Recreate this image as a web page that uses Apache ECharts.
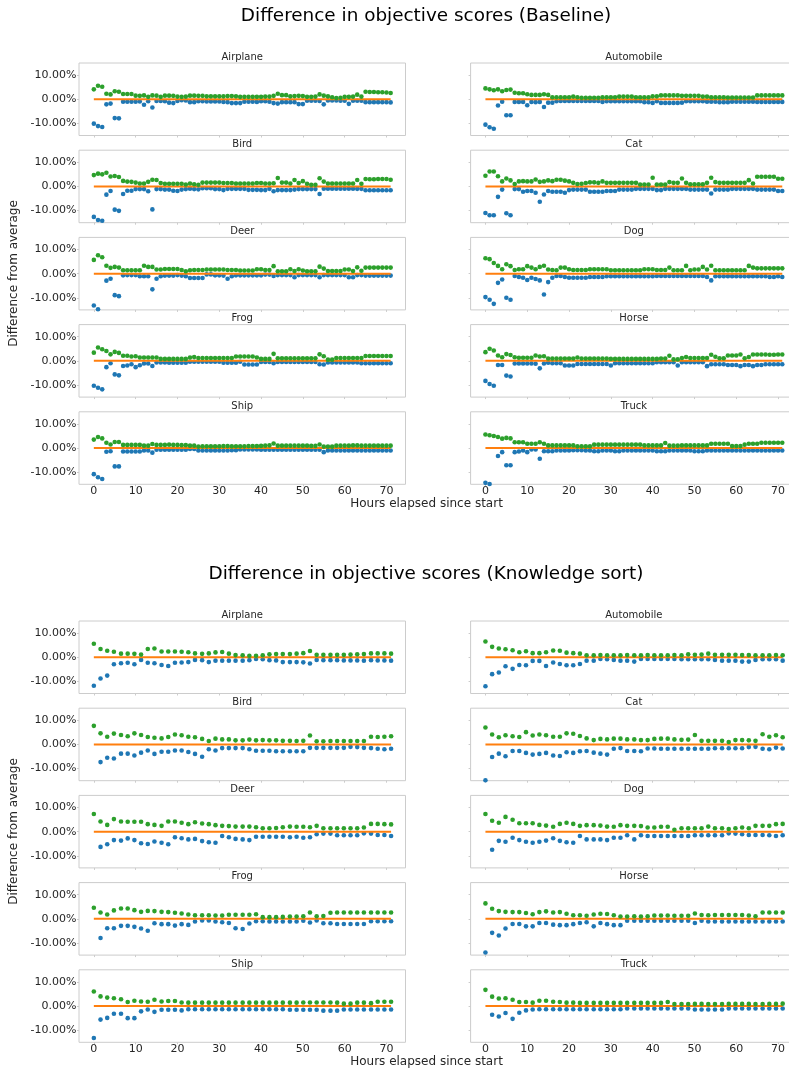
<!DOCTYPE html>
<html>
<head>
<meta charset="utf-8">
<script src="https://cdn.jsdelivr.net/npm/echarts@6.0.0/dist/echarts.min.js"></script>
<style>
html,body{margin:0;padding:0;background:#ffffff;}
#chart{width:789px;height:1071px;}
</style>
</head>
<body>
<div id="chart"></div>
<script>
// ---------------- DATA ----------------
const panelNames = ['Airplane','Automobile','Bird','Cat','Deer','Dog','Frog','Horse','Ship','Truck'];
const sectionTitles = ['Difference in objective scores (Baseline)','Difference in objective scores (Knowledge sort)'];
const xTicks = [0,10,20,30,40,50,60,70];
const yTicks = [-10,0,10];

const baseHours = [0,1,2,3,4,5,6,7,8,9,10,11,12,13,14,15,16,17,18,19,20,21,22,23,24,25,26,27,28,29,30,31,32,33,34,35,
  36,37,38,39,40,41,42,43,44,45,46,47,48,49,50,51,52,53,54,55,56,57,58,59,60,61,62,63,64,65,66,67,68,69,70,71];
const ksHours = [0,1.6,3.2,4.8,6.5,8.1,9.7,11.3,12.9,14.5,16.2,17.8,19.4,21.0,22.6,24.2,25.9,27.5,29.1,30.7,
  32.3,33.9,35.6,37.2,38.8,40.4,42.0,43.6,45.2,46.9,48.5,50.1,51.7,53.3,54.9,56.6,58.2,59.8,61.4,63.0,
  64.6,66.3,67.9,69.5,71.1];

// Baseline (values in %)
const baseAirplaneMax = [4.1,5.6,5.2,2.3,2.0,3.3,3.1,2.2,2.2,2.2, 1.5,1.4,1.6,1.0,1.6,1.5,1.0,1.5,1.5,1.4,
  1.1,1.0,1.1,1.5,1.5,1.4,1.4,1.2,1.2,1.2, 1.2,1.2,1.3,1.3,1.2,1.0,1.0,1.0,1.0,1.0,
  1.0,1.1,1.1,1.4,2.3,1.7,1.7,1.2,1.3,1.4, 1.3,1.0,1.0,1.1,2.0,1.5,1.2,0.8,0.5,0.6,
  1.0,1.0,1.1,1.9,1.1,3.1,3.0,3.0,2.9,2.9, 2.8,2.6];
const baseAirplaneMin = [-10.1,-11.1,-11.5,-2.1,-1.8,-7.8,-7.9,-1.0,-1.0,-1.0, -1.0,-0.9,-2.3,-0.8,-3.4,-0.7,-0.7,-0.8,-1.4,-1.6,
  -0.7,-0.4,-0.5,-1.2,-1.2,-0.8,-0.8,-0.9,-0.9,-0.9, -0.9,-1.1,-1.2,-1.6,-1.6,-1.6,-1.0,-1.0,-1.0,-1.1,
  -0.8,-0.8,-1.0,-1.6,-1.8,-1.2,-1.2,-1.2,-1.2,-2.0, -2.0,-0.6,-0.6,-0.6,-0.7,-2.1,-0.5,-0.5,-0.5,-0.6,
  -0.6,-1.9,-0.6,-0.6,-0.6,-1.2,-1.2,-1.2,-1.2,-1.2, -1.2,-1.3];
const baseAutomobileMax = [4.5,4.1,3.7,4.1,3.3,3.8,4.0,2.7,2.5,2.5, 2.1,1.8,1.8,1.8,2.1,1.8,0.8,0.8,0.8,0.8,
  0.8,1.1,0.8,0.6,0.6,0.6,0.6,0.6,0.8,0.8, 0.8,0.8,1.1,1.1,1.1,1.1,0.8,0.8,0.8,0.8,
  1.2,1.2,1.6,1.6,1.6,1.6,1.6,1.4,1.4,1.4, 1.4,1.4,1.1,1.1,0.8,0.8,0.8,0.8,0.7,0.7,
  0.7,0.7,0.7,0.7,0.7,1.6,1.6,1.6,1.6,1.6, 1.6,1.6];
const baseAutomobileMin = [-10.5,-11.6,-12.2,-2.6,-1.0,-6.6,-6.6,-1.1,-1.1,-1.1, -2.5,-1.1,-1.2,-1.1,-3.2,-1.4,-1.4,-0.8,-0.7,-0.7,
  -0.7,-0.7,-0.7,-0.7,-0.7,-0.7,-0.7,-0.7,-1.1,-0.8, -0.8,-0.8,-0.8,-0.8,-0.8,-0.8,-0.8,-0.8,-1.2,-1.2,
  -1.5,-0.8,-1.5,-1.5,-1.5,-1.5,-1.5,-1.4,-0.8,-0.8, -0.8,-0.8,-0.8,-1.0,-1.0,-1.0,-1.2,-1.2,-1.2,-1.0,
  -1.0,-1.0,-1.0,-1.0,-1.0,-1.1,-1.1,-1.1,-1.1,-1.1, -1.1,-1.1];
const baseBirdMax = [4.7,5.3,5.0,5.7,4.1,4.3,3.9,2.3,2.0,1.9, 1.6,1.2,1.2,1.9,2.8,2.7,1.4,1.1,1.1,1.1,
  1.1,1.1,0.8,1.2,0.9,0.7,1.6,1.6,1.6,1.6, 1.6,1.4,1.4,1.4,1.2,1.2,1.2,1.2,1.2,1.4,
  1.4,1.2,1.2,1.3,3.5,1.6,1.6,1.2,2.7,1.4, 2.2,1.1,0.7,0.7,3.4,2.0,1.2,1.2,1.2,1.2,
  1.2,1.2,1.2,2.7,1.1,3.1,3.0,3.0,3.1,3.1, 3.1,2.8];
const baseBirdMin = [-12.6,-13.9,-14.2,-3.4,-1.9,-9.6,-10.1,-3.1,-1.8,-1.8, -1.1,-1.1,-1.1,-2.0,-9.5,-1.1,-1.1,-1.3,-1.3,-1.8,
  -1.9,-1.3,-1.1,-0.9,-1.1,-1.2,-0.7,-0.7,-0.7,-1.1, -1.1,-1.5,-1.0,-1.0,-1.0,-1.0,-1.0,-1.4,-1.4,-1.4,
  -1.5,-1.5,-1.0,-2.0,-1.5,-1.5,-1.5,-1.5,-1.3,-1.1, -1.1,-1.1,-1.1,-1.1,-3.1,-0.9,-0.9,-0.9,-0.9,-0.9,
  -0.9,-0.9,-0.9,-1.0,-1.0,-1.6,-1.6,-1.6,-1.6,-1.6, -1.6,-1.6];
const baseCatMax = [4.4,6.2,6.2,4.2,2.1,3.3,2.5,1.0,2.1,2.2, 2.1,2.1,2.9,1.9,2.1,2.5,2.2,2.8,2.8,2.4,
  2.1,1.5,1.0,1.1,1.4,1.7,1.7,1.5,2.1,1.5, 1.5,1.5,1.5,1.5,1.5,1.5,1.5,0.8,0.8,0.8,
  3.6,0.8,0.8,0.8,1.8,1.5,1.5,3.3,1.5,0.9, 0.9,0.9,0.9,1.5,3.6,1.8,1.5,1.5,1.5,1.5,
  1.5,1.5,1.5,2.6,1.2,4.0,4.0,4.0,4.0,4.0, 3.2,3.2];
const baseCatMin = [-11.0,-11.9,-11.9,-4.3,-1.3,-11.1,-11.9,-1.1,-1.1,-2.2, -1.9,-1.9,-2.6,-6.3,-3.3,-1.9,-2.2,-2.2,-2.2,-2.6,
  -1.5,-1.3,-1.3,-1.3,-1.3,-2.2,-2.2,-2.2,-2.2,-1.9, -1.9,-1.9,-1.3,-1.3,-1.3,-1.3,-1.0,-1.0,-1.0,-1.0,
  -1.0,-1.5,-1.5,-1.0,-1.0,-1.0,-1.0,-1.0,-1.0,-1.3, -1.3,-1.3,-1.3,-1.3,-2.9,-1.3,-1.3,-1.3,-1.3,-1.0,
  -1.0,-1.0,-1.0,-1.0,-1.0,-1.3,-1.3,-1.3,-1.3,-1.3, -1.9,-1.9];
const baseDeerMax = [5.7,7.6,6.8,3.3,2.4,2.8,2.5,1.4,1.4,1.4, 1.4,1.4,3.3,2.8,2.8,1.7,1.7,1.9,1.9,1.9,
  1.9,1.5,1.0,1.4,1.5,1.5,1.5,1.7,1.7,1.7, 1.7,1.7,1.5,1.5,1.5,1.3,1.3,1.3,1.3,1.8,
  1.8,1.5,1.5,3.1,1.0,1.0,1.0,1.8,1.1,1.8, 1.3,1.0,1.0,1.0,2.9,2.1,1.1,1.1,1.1,1.1,
  1.7,1.7,1.1,2.6,1.2,2.5,2.5,2.5,2.5,2.5, 2.5,2.5];
const baseDeerMin = [-13.2,-14.7,-15.6,-2.9,-2.1,-8.9,-9.3,-0.7,-0.6,-0.6, -0.6,-1.1,-1.1,-1.1,-6.5,-2.1,-1.1,-0.8,-0.8,-0.8,
  -0.6,-0.8,-1.1,-1.8,-1.8,-1.8,-1.8,-0.3,-0.3,-0.7, -0.7,-0.8,-2.1,-1.1,-0.7,-0.7,-0.7,-0.7,-0.7,-0.7,
  -0.7,-0.4,-0.4,-1.0,-0.6,-0.6,-0.6,-0.6,-1.5,-0.6, -0.6,-0.6,-0.6,-0.6,-1.5,-0.6,-0.6,-0.6,-0.6,-0.6,
  -0.6,-1.5,-1.5,-0.6,-0.6,-0.8,-0.8,-0.8,-0.8,-0.8, -0.8,-0.8];
const baseDogMax = [6.4,6.0,4.4,3.2,1.8,3.9,3.1,1.5,1.8,1.8, 3.1,2.5,1.8,2.8,3.3,1.7,1.5,1.4,2.5,2.5,
  1.8,1.5,1.5,1.5,1.5,1.8,1.8,1.8,1.8,1.8, 1.4,1.4,1.4,1.4,1.4,1.4,1.4,1.4,1.8,1.8,
  1.8,1.5,1.5,1.5,2.5,1.4,1.4,1.4,3.2,1.4, 1.7,1.7,2.8,1.7,3.3,1.4,1.4,1.4,1.4,1.4,
  1.4,1.4,1.4,3.2,2.5,2.2,2.2,2.2,2.2,2.2, 2.2,2.2];
const baseDogMin = [-9.7,-10.8,-12.5,-3.8,-2.4,-10.0,-10.8,-1.0,-1.4,-1.7, -2.6,-1.7,-2.2,-2.8,-8.6,-3.5,-1.7,-1.0,-1.0,-1.4,
  -1.7,-1.7,-1.7,-1.7,-1.7,-1.4,-1.4,-1.4,-1.4,-1.1, -1.1,-1.1,-1.1,-1.1,-1.1,-1.1,-1.1,-1.1,-1.1,-1.1,
  -1.1,-1.0,-1.0,-1.0,-1.0,-1.0,-1.0,-1.0,-1.0,-1.0, -1.0,-1.0,-1.0,-1.4,-2.8,-1.1,-1.1,-1.1,-1.1,-1.1,
  -1.1,-1.1,-1.1,-1.1,-1.1,-1.1,-1.1,-1.1,-1.4,-1.4, -1.1,-1.4];
const baseFrogMax = [3.4,5.5,4.8,4.1,2.7,3.7,3.3,2.1,2.1,1.8, 1.9,1.4,1.4,1.4,1.4,1.4,0.8,0.8,0.8,0.8,
  0.8,0.8,0.8,1.4,1.6,1.2,1.2,1.2,1.2,1.2, 1.2,1.2,1.2,1.2,1.8,1.8,1.8,1.8,1.8,1.4,
  0.8,0.8,0.8,2.9,1.1,1.1,1.1,1.1,1.1,1.1, 1.1,1.1,1.1,1.1,2.7,1.9,0.5,0.5,1.2,1.2,
  1.2,1.2,1.2,1.2,1.2,2.0,2.0,2.0,2.0,2.0, 2.0,2.0];
const baseFrogMin = [-10.3,-11.1,-11.8,-2.6,-1.0,-5.6,-6.0,-2.1,-1.9,-1.4, -2.6,-1.8,-1.1,-1.1,-2.1,-0.7,-0.7,-0.7,-0.8,-0.8,
  -0.8,-0.8,-0.8,-0.4,-0.4,-0.4,-0.4,-0.4,-0.4,-0.4, -0.4,-0.8,-0.8,-0.8,-0.8,-0.4,-1.5,-1.5,-1.5,-1.5,
  -0.5,-0.5,-0.5,-1.0,-0.5,-0.5,-0.5,-0.5,-0.5,-0.5, -0.5,-0.5,-0.5,-0.5,-1.4,-1.5,-0.7,-0.7,-0.7,-0.7,
  -0.7,-0.7,-0.7,-0.7,-1.0,-1.0,-1.0,-1.0,-1.0,-1.0, -1.0,-1.0];
const baseHorseMax = [3.6,5.0,4.3,2.2,1.5,2.8,2.4,1.5,1.3,1.3, 1.3,1.3,2.2,1.8,1.9,1.0,1.0,1.0,1.0,1.0,
  1.0,1.0,1.4,1.0,1.0,1.0,1.0,1.0,1.0,1.0, 0.8,0.8,0.8,0.8,0.8,0.8,0.8,0.8,0.8,0.8,
  0.8,0.8,1.0,1.0,2.1,0.6,0.6,1.2,1.6,1.2, 1.2,1.2,1.2,1.2,2.5,1.7,1.1,1.1,2.2,2.2,
  2.2,2.6,1.1,1.6,2.6,2.6,2.6,2.6,2.5,2.5, 2.6,2.6];
const baseHorseMin = [-8.3,-9.6,-10.3,-1.7,-1.7,-6.1,-6.5,-1.1,-1.1,-1.1, -1.1,-1.1,-1.2,-3.1,-1.1,-0.8,-1.0,-1.0,-1.0,-1.9,
  -1.9,-1.9,-1.3,-1.3,-1.3,-1.3,-1.3,-1.3,-1.3,-1.3, -1.9,-1.0,-1.0,-1.0,-1.0,-1.0,-1.0,-1.0,-1.0,-1.0,
  -1.0,-0.6,-0.6,-0.6,-0.6,-0.6,-1.9,-0.6,-0.6,-0.6, -0.6,-0.6,-0.6,-2.2,-1.4,-1.4,-1.4,-1.4,-1.7,-1.7,
  -1.7,-2.2,-1.7,-1.7,-2.2,-1.7,-1.7,-1.4,-1.4,-1.4, -1.4,-1.4];
const baseShipMax = [3.5,4.6,4.0,2.2,1.5,2.5,2.5,1.3,1.3,1.3, 1.3,1.3,1.0,1.0,1.7,1.3,1.3,1.3,1.4,1.3,
  1.3,1.2,1.2,1.0,1.0,0.6,0.7,0.7,0.7,0.7, 0.7,0.8,0.8,0.7,0.7,0.7,0.7,0.8,0.8,0.8,
  0.9,1.0,1.1,1.9,1.0,1.0,1.0,1.0,1.0,1.0, 1.0,1.0,0.9,0.9,1.5,0.6,0.6,0.6,1.0,1.0,
  1.0,1.0,1.1,1.1,1.0,1.0,1.0,1.0,1.0,1.0, 1.0,1.0];
const baseShipMin = [-10.8,-12.1,-12.8,-1.5,-1.3,-7.6,-7.6,-1.4,-1.4,-1.4, -1.4,-1.4,-1.0,-1.0,-1.9,-0.7,-0.7,-0.7,-0.7,-0.7,
  -0.7,-0.7,-0.7,-0.4,-0.4,-1.0,-1.0,-1.0,-1.0,-1.0, -1.0,-1.0,-1.0,-0.9,-0.9,-0.6,-0.6,-0.6,-0.6,-0.6,
  -0.7,-0.7,-0.7,-0.7,-0.7,-0.7,-0.7,-0.7,-0.7,-0.7, -0.7,-0.7,-0.7,-0.7,-0.7,-1.7,-1.0,-1.0,-1.0,-1.0,
  -1.0,-1.0,-1.0,-1.0,-1.0,-1.0,-1.0,-1.0,-1.0,-1.0, -1.0,-1.0];
const baseTruckMax = [5.6,5.3,5.0,4.6,3.9,4.2,4.0,2.4,2.4,2.4, 1.8,1.8,1.8,2.4,1.8,1.1,1.1,1.1,1.1,1.1,
  1.1,1.1,0.7,0.7,0.7,0.7,1.4,1.4,1.4,1.4, 1.4,1.4,1.4,1.4,1.4,1.4,1.4,1.4,1.1,1.1,
  1.1,1.1,1.1,2.1,1.0,1.0,1.0,1.1,1.1,1.1, 1.1,1.1,1.1,1.1,1.8,1.8,1.8,1.8,1.8,0.8,
  0.8,0.8,1.4,1.8,1.8,1.8,2.2,2.2,2.2,2.2, 2.2,2.2];
const baseTruckMin = [-14.4,-14.9,-15.5,-3.3,-1.7,-7.1,-7.1,-1.7,-1.4,-1.0, -1.7,-0.6,-0.6,-4.4,-1.3,-1.3,-1.3,-1.0,-1.0,-1.0,
  -1.0,-0.9,-0.9,-0.9,-1.0,-1.0,-1.3,-1.3,-1.0,-1.0, -1.0,-1.3,-1.3,-1.0,-1.0,-1.0,-1.0,-1.0,-1.0,-1.0,
  -1.0,-1.3,-1.3,-1.3,-1.0,-1.0,-1.0,-1.0,-1.0,-1.0, -1.3,-1.3,-1.3,-1.0,-1.0,-1.0,-1.0,-1.0,-1.0,-1.0,
  -1.0,-1.0,-1.0,-1.0,-1.0,-1.0,-1.0,-1.0,-1.0,-1.0, -1.0,-1.0];

// Knowledge sort (values in %)
const ksAirplaneMax = [5.6,3.4,2.7,2.3,1.5,1.5,1.4,1.1,3.4,3.6, 2.4,2.4,2.4,2.3,2.1,1.6,1.4,1.6,2.0,2.2,
  1.5,0.9,0.8,0.6,0.6,0.8,1.2,1.3,1.3,1.3, 1.5,1.7,2.6,1.0,1.0,1.0,1.0,1.0,1.1,1.2, 1.3,1.6,1.6,1.6,1.5];
const ksAirplaneMin = [-11.8,-8.8,-7.6,-2.9,-2.5,-2.3,-2.9,-1.1,-2.3,-2.5, -3.2,-3.6,-2.3,-2.2,-2.0,-1.1,-1.2,-2.0,-1.4,-1.4,
  -1.4,-1.4,-1.4,-1.2,-0.7,-0.8,-1.2,-1.3,-2.0,-2.0, -2.0,-2.1,-2.6,-1.1,-1.2,-1.2,-1.2,-1.3,-1.3,-1.3, -1.4,-1.2,-1.3,-1.3,-1.4];
const ksAutomobileMax = [6.5,4.3,3.6,3.3,2.9,2.1,2.5,1.7,1.7,2.1, 2.8,2.7,1.9,1.7,1.5,0.8,0.8,0.9,0.8,0.8,
  0.8,0.9,0.8,0.8,0.9,0.8,0.8,0.8,0.9,0.8, 1.2,1.0,1.1,1.5,1.0,1.0,1.0,1.0,0.9,0.9, 0.8,0.8,0.8,0.9,0.8];
const ksAutomobileMin = [-12.0,-7.0,-6.3,-3.7,-4.8,-3.2,-3.3,-1.5,-1.5,-3.6, -2.2,-2.8,-3.3,-3.3,-2.8,-1.4,-1.4,-0.7,-0.8,-1.1,
  -1.4,-1.4,-1.8,-0.7,-0.7,-0.7,-0.7,-0.7,-0.7,-0.8, -0.8,-0.8,-0.8,-0.8,-1.1,-1.4,-1.4,-1.4,-1.8,-1.8, -1.1,-0.8,-0.8,-0.8,-1.4];
const ksBirdMax = [7.7,4.6,3.2,4.5,3.9,3.4,4.6,3.9,3.1,2.8, 2.5,3.1,4.1,3.8,3.2,3.0,2.3,1.4,2.4,2.1,
  2.1,1.7,1.7,2.0,1.7,1.8,1.7,1.7,1.5,1.5, 1.4,1.5,3.7,1.3,1.3,1.4,1.4,1.4,1.4,1.4, 1.4,3.2,3.1,3.2,3.4];
const ksBirdMin = [-16.0,-7.3,-5.5,-5.8,-3.8,-3.8,-4.6,-3.4,-2.5,-3.9, -3.0,-3.0,-2.5,-2.5,-3.1,-3.9,-5.1,-2.0,-2.5,-1.5,
  -1.5,-1.5,-1.5,-2.0,-2.6,-2.6,-2.6,-2.8,-2.8,-2.8, -2.8,-2.8,-1.4,-1.4,-1.4,-1.4,-1.4,-1.4,-1.0,-1.1, -1.4,-1.5,-1.8,-2.0,-1.8];
const ksCatMax = [7.0,4.1,3.0,3.8,3.4,3.1,5.1,3.7,4.1,3.8, 3.2,3.2,4.6,4.4,3.5,2.5,1.8,2.3,2.1,2.4,
  2.4,2.1,2.1,1.8,1.8,2.3,2.4,2.4,2.1,1.9, 2.0,3.9,1.5,1.5,1.5,1.5,1.0,1.8,1.8,1.7, 1.5,4.2,3.2,3.8,3.0];
const ksCatMin = [-14.8,-5.2,-3.8,-4.9,-2.7,-2.7,-3.5,-4.2,-3.9,-3.5, -4.6,-4.8,-3.2,-3.5,-2.8,-2.7,-3.4,-3.8,-4.2,-1.8,
  -1.5,-2.7,-2.7,-2.8,-1.7,-1.7,-1.8,-1.8,-1.8,-1.8, -1.8,-1.8,-1.8,-1.8,-1.6,-1.6,-1.6,-1.6,-1.6,-1.1, -1.0,-1.8,-2.0,-1.3,-1.7];
const ksDeerMax = [7.3,4.2,2.8,5.2,4.2,4.1,4.1,4.1,3.1,2.8, 2.4,4.2,4.2,3.7,3.1,3.9,3.4,3.1,2.7,2.4,
  2.3,2.1,2.1,2.1,1.8,1.4,1.4,1.5,1.8,2.1, 2.0,2.0,1.8,2.4,1.4,1.4,1.4,1.4,1.4,1.4, 1.7,3.2,3.2,3.1,3.0];
const ksDeerMin = [-16.0,-6.3,-5.2,-3.5,-3.7,-2.8,-3.5,-4.8,-5.1,-4.1, -4.6,-5.2,-2.3,-2.7,-3.2,-3.0,-3.9,-4.4,-4.6,-1.8,
  -2.3,-3.0,-3.2,-3.5,-2.1,-2.1,-2.1,-2.1,-2.1,-2.3, -2.1,-2.5,-2.3,-1.1,-0.8,-0.8,-1.5,-1.5,-1.5,-1.5, -0.7,-0.8,-1.4,-1.4,-1.8];
const ksDogMax = [7.3,4.5,3.7,6.1,4.9,3.5,3.5,3.5,2.8,2.5, 2.0,3.2,3.7,3.2,2.4,2.7,2.7,2.5,2.1,2.0,
  2.7,2.4,2.4,2.3,1.7,1.7,2.0,2.0,0.8,1.4, 1.4,1.4,1.4,2.1,1.4,1.4,1.1,1.4,1.7,1.4, 2.4,2.4,2.4,3.1,3.2];
const ksDogMin = [-16.0,-7.5,-3.8,-4.2,-2.5,-3.5,-4.2,-4.6,-4.2,-3.7, -2.7,-3.8,-4.4,-4.6,-1.8,-3.2,-3.2,-3.2,-3.5,-2.5,
  -2.5,-1.5,-3.2,-1.5,-1.8,-1.8,-1.8,-1.8,-1.8,-1.8, -1.8,-1.5,-1.5,-1.5,-1.5,-1.5,-0.7,-0.8,-1.1,-1.4, -1.4,-1.4,-1.5,-1.8,-1.5];
const ksFrogMax = [4.6,2.6,1.8,3.5,4.3,4.3,3.6,2.9,3.3,3.2, 2.9,2.8,2.5,2.2,1.8,1.5,1.5,1.5,1.4,1.4,
  1.7,1.7,1.7,1.7,1.9,0.7,0.7,0.7,0.8,1.0, 1.0,1.1,2.6,1.1,1.2,2.5,2.6,2.6,2.6,2.6, 2.6,2.6,2.6,2.6,2.6];
const ksFrogMin = [-16.0,-7.9,-3.9,-3.9,-2.9,-2.9,-3.3,-4.0,-4.9,-1.8, -2.2,-2.2,-2.8,-2.2,-2.5,-1.1,-0.7,-0.7,-1.1,-1.4,
  -1.7,-3.9,-4.2,-1.9,-1.0,-1.0,-1.1,-1.1,-1.1,-1.1, -1.1,-0.8,-1.5,-0.7,-1.8,-1.8,-2.1,-2.1,-2.1,-2.1, -2.1,-1.0,-1.0,-1.0,-1.0];
const ksHorseMax = [6.4,4.2,3.2,2.9,2.8,2.8,2.4,1.9,2.8,3.1, 2.6,2.8,2.1,1.5,1.5,1.3,1.8,2.1,2.0,1.5,
  1.0,1.0,1.1,1.0,1.1,1.4,1.4,1.4,1.3,1.3, 1.3,2.2,1.6,1.5,1.6,1.6,1.6,1.6,1.6,1.4, 1.1,2.6,2.6,2.6,2.6];
const ksHorseMin = [-13.9,-5.8,-6.9,-4.0,-2.1,-2.1,-3.1,-3.1,-1.7,-1.7, -2.4,-2.6,-2.6,-2.2,-1.7,-1.4,-3.1,-1.7,-2.2,-2.6,
  -2.6,-0.8,-0.8,-0.8,-0.8,-0.8,-0.8,-0.8,-0.8,-0.8, -0.8,-1.7,-0.8,-1.1,-1.1,-1.1,-1.1,-1.1,-1.1,-1.1, -1.1,-1.1,-1.1,-1.1,-1.1];
const ksShipMax = [6.0,4.0,3.5,3.2,2.8,1.7,2.2,1.9,1.8,2.6, 1.9,2.1,2.1,1.5,1.4,1.4,1.4,1.4,1.4,1.4,
  1.4,1.4,1.4,1.4,1.4,1.4,1.4,1.4,1.4,1.4, 1.4,1.5,1.5,1.5,1.5,1.5,1.4,1.0,1.0,1.4, 1.4,1.2,1.8,1.8,1.8];
const ksShipMin = [-13.2,-5.6,-4.9,-3.2,-3.2,-5.0,-5.0,-2.2,-1.4,-2.4, -1.5,-1.5,-1.5,-1.8,-1.3,-1.3,-1.3,-1.3,-1.3,-1.3,
  -1.3,-1.3,-1.3,-1.3,-1.3,-1.3,-1.3,-1.3,-1.3,-1.5, -1.5,-1.5,-1.5,-1.5,-1.9,-1.9,-1.9,-1.4,-1.4,-1.4, -1.4,-1.4,-1.4,-1.4,-1.4];
const ksTruckMax = [6.7,3.9,3.1,3.2,2.6,1.7,1.7,1.4,2.2,2.2, 1.8,1.7,1.4,1.4,1.3,1.3,1.3,1.3,1.3,1.3,
  1.3,1.3,1.3,1.3,1.3,1.3,1.3,1.7,0.8,0.8, 0.8,0.9,0.9,0.8,0.8,0.8,0.9,0.9,0.9,0.9, 0.8,0.8,0.9,0.9,1.0];
const ksTruckMin = [-16.0,-3.6,-4.3,-2.9,-5.3,-2.8,-1.8,-1.4,-1.3,-1.3, -1.3,-1.3,-1.3,-1.3,-1.3,-1.3,-1.3,-1.3,-1.3,-1.3,
  -1.3,-1.0,-1.0,-1.0,-1.0,-1.0,-1.0,-1.0,-1.0,-1.0, -1.0,-1.4,-1.4,-1.4,-1.4,-1.4,-1.0,-1.0,-1.0,-1.0, -1.0,-1.0,-1.0,-1.0,-1.0];

// ---------------- BUILD ----------------
const sections = [
  { hours: baseHours,
    max: [baseAirplaneMax,baseAutomobileMax,baseBirdMax,baseCatMax,baseDeerMax,baseDogMax,baseFrogMax,baseHorseMax,baseShipMax,baseTruckMax],
    min: [baseAirplaneMin,baseAutomobileMin,baseBirdMin,baseCatMin,baseDeerMin,baseDogMin,baseFrogMin,baseHorseMin,baseShipMin,baseTruckMin] },
  { hours: ksHours,
    max: [ksAirplaneMax,ksAutomobileMax,ksBirdMax,ksCatMax,ksDeerMax,ksDogMax,ksFrogMax,ksHorseMax,ksShipMax,ksTruckMax],
    min: [ksAirplaneMin,ksAutomobileMin,ksBirdMin,ksCatMin,ksDeerMin,ksDogMin,ksFrogMin,ksHorseMin,ksShipMin,ksTruckMin] }
];

const FONT = '"DejaVu Sans", sans-serif';
const TXT = '#262626';
const SPINE = '#cccccc';
const colLeft = [79, 470.6];
const W = 326.5, H = 72.5, ROW0 = 63, PITCH = 87.2, SEC = 558;

const grids = [], xAxes = [], yAxes = [], series = [], graphics = [];
let k = 0;
sections.forEach((sec, s) => {
  graphics.push({ type: 'text', x: 426, y: 16 + s * SEC,
    style: { text: sectionTitles[s], fill: '#000000', fontSize: 18.4, fontFamily: FONT, align: 'center', verticalAlign: 'middle' } });
  graphics.push({ type: 'text', x: 426.5, y: 503.5 + s * SEC,
    style: { text: 'Hours elapsed since start', fill: TXT, fontSize: 12, fontFamily: FONT, align: 'center', verticalAlign: 'middle' } });
  graphics.push({ type: 'text', x: 14, y: 273.5 + s * SEC, rotation: Math.PI / 2,
    style: { text: 'Difference from average', fill: TXT, fontSize: 12, fontFamily: FONT, align: 'center', verticalAlign: 'middle' } });
  for (let p = 0; p < 10; p++) {
    const col = p % 2, row = Math.floor(p / 2);
    const left = colLeft[col], top = ROW0 + row * PITCH + s * SEC;
    grids.push({ left: left, top: top, width: W, height: H, show: true, borderColor: SPINE, borderWidth: 1,
      backgroundColor: 'transparent', containLabel: false, outerBoundsMode: 'none' });
    graphics.push({ type: 'text', x: left + W / 2, y: top - 5.8,
      style: { text: panelNames[p], fill: TXT, fontSize: 10, fontFamily: FONT, align: 'center', verticalAlign: 'middle' } });
    xAxes.push({ type: 'value', gridIndex: k, min: -3.55, max: 74.55,
      axisLine: { show: false, onZero: false }, splitLine: { show: false },
      axisTick: { show: true, length: 2, lineStyle: { color: SPINE }, customValues: xTicks },
      axisLabel: { show: row === 4, customValues: xTicks, margin: 1, color: TXT, fontSize: 11, fontFamily: FONT } });
    yAxes.push({ type: 'value', gridIndex: k, min: -15, max: 15,
      axisLine: { show: false, onZero: false }, splitLine: { show: false },
      axisTick: { show: true, length: 2, lineStyle: { color: SPINE }, customValues: yTicks },
      axisLabel: { show: col === 0, customValues: yTicks, margin: 2.5, color: TXT, fontSize: 11, fontFamily: FONT,
        formatter: v => v.toFixed(2) + '%' } });
    const hrs = sec.hours;
    series.push({ type: 'scatter', xAxisIndex: k, yAxisIndex: k, z: 2, symbolSize: 4.6, clip: true, silent: true,
      itemStyle: { color: '#1f77b4', opacity: 1 }, data: hrs.map((h, i) => [h, sec.min[p][i]]) });
    series.push({ type: 'line', xAxisIndex: k, yAxisIndex: k, z: 3, symbol: 'none', showSymbol: false, silent: true,
      lineStyle: { color: '#ff7f0e', width: 2 }, data: [[hrs[0], 0], [hrs[hrs.length - 1], 0]] });
    series.push({ type: 'scatter', xAxisIndex: k, yAxisIndex: k, z: 4, symbolSize: 4.6, clip: true, silent: true,
      itemStyle: { color: '#2ca02c', opacity: 1 }, data: hrs.map((h, i) => [h, sec.max[p][i]]) });
    k++;
  }
});

const chart = echarts.init(document.getElementById('chart'), null, { renderer: 'canvas', width: 789, height: 1071 });
chart.setOption({
  backgroundColor: '#ffffff',
  animation: false,
  textStyle: { fontFamily: FONT },
  grid: grids, xAxis: xAxes, yAxis: yAxes, series: series,
  graphic: { elements: graphics }
});
</script>
</body>
</html>
